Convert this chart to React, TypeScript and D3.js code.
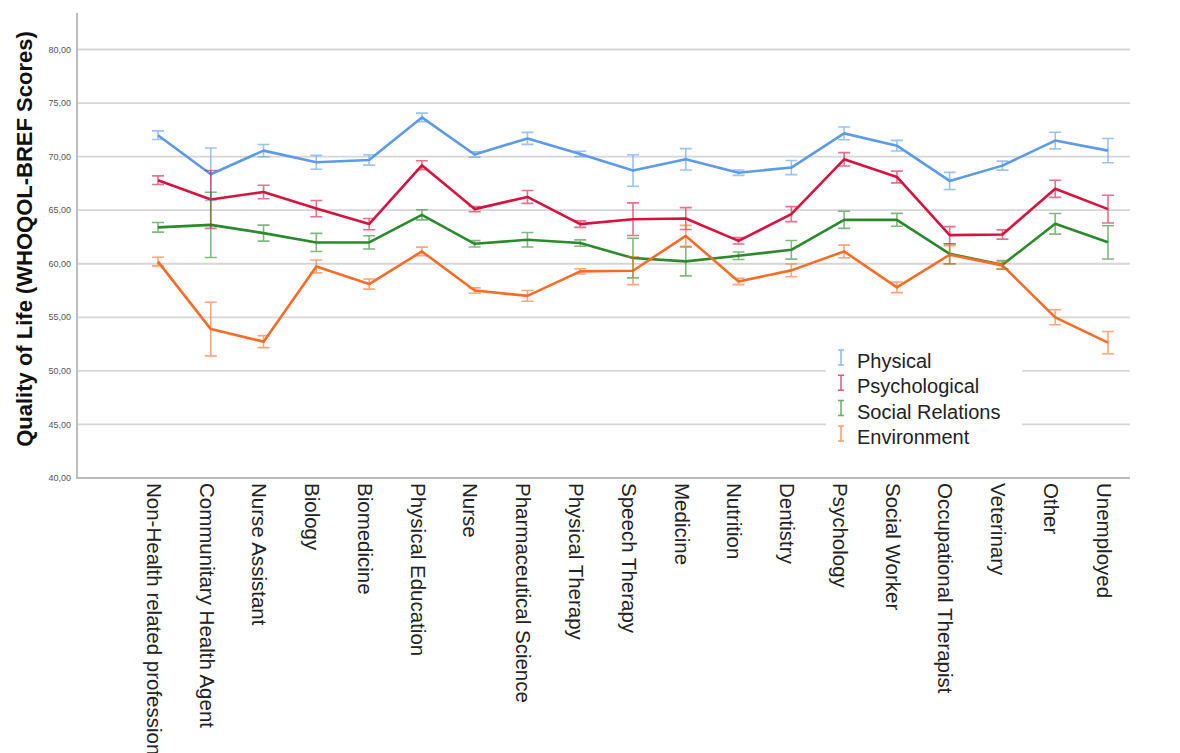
import * as d3 from "d3";
import { useEffect, useRef } from "react";

const categories = [
  "Non-Health related profession",
  "Communitary Health Agent",
  "Nurse Assistant",
  "Biology",
  "Biomedicine",
  "Physical Education",
  "Nurse",
  "Pharmaceutical Science",
  "Physical Therapy",
  "Speech Therapy",
  "Medicine",
  "Nutrition",
  "Dentistry",
  "Psychology",
  "Social Worker",
  "Occupational Therapist",
  "Veterinary",
  "Other",
  "Unemployed",
];

const physical = [72.0, 68.35, 70.56, 69.47, 69.69, 73.66, 70.2, 71.7, 70.25, 68.7, 69.75, 68.5, 68.98, 72.17, 71.02, 67.73, 69.16, 71.5, 70.56];
const physicalErr = [0.4, 2.45, 0.57, 0.65, 0.48, 0.4, 0.25, 0.56, 0.25, 1.47, 1.0, 0.25, 0.66, 0.59, 0.5, 0.8, 0.42, 0.78, 1.13];

const psychological = [67.8, 66.0, 66.7, 65.15, 63.7, 69.19, 65.1, 66.24, 63.7, 64.16, 64.22, 62.14, 64.63, 69.75, 68.1, 62.67, 62.73, 67.0, 65.1];
const psychologicalErr = [0.4, 2.7, 0.63, 0.76, 0.53, 0.42, 0.25, 0.6, 0.3, 1.52, 1.02, 0.3, 0.7, 0.62, 0.55, 0.8, 0.43, 0.8, 1.29];

const social = [63.4, 63.63, 62.86, 61.99, 62.0, 64.57, 61.86, 62.24, 61.93, 60.53, 60.22, 60.75, 61.3, 64.1, 64.1, 60.93, 59.9, 63.73, 62.0];
const socialErr = [0.45, 3.05, 0.75, 0.85, 0.62, 0.47, 0.3, 0.68, 0.3, 1.85, 1.35, 0.35, 0.87, 0.8, 0.6, 0.93, 0.4, 0.96, 1.55];

const environment = [60.2, 53.9, 52.73, 59.75, 58.1, 61.15, 57.5, 57.0, 59.29, 59.35, 62.6, 58.35, 59.38, 61.15, 57.8, 60.84, 59.85, 55.0, 52.64];
const environmentErr = [0.4, 2.5, 0.56, 0.6, 0.47, 0.4, 0.25, 0.5, 0.25, 1.3, 0.98, 0.3, 0.6, 0.59, 0.5, 0.85, 0.35, 0.7, 1.04];

const seriesNames = ["Physical", "Psychological", "Social Relations", "Environment"];
const seriesColors = ["#5b9be8", "#d6123e", "#2b8a2b", "#f76d28"];

const yTicks = [40, 45, 50, 55, 60, 65, 70, 75, 80];
const yTitle = "Quality of Life (WHOQOL-BREF Scores)";

const W = 1180;
const H = 753;
const FONT = "'Liberation Sans', Arial, sans-serif";

export default function App() {
  const ref = useRef<SVGSVGElement>(null);

  useEffect(() => {
    const svg = d3.select(ref.current);
    svg.selectAll("*").remove();

    const axisLeft = 77;
    const axisRight = 1130;

    // scales
    const x = d3.scalePoint<string>().domain(categories).range([158, 1108]);
    const y = d3.scaleLinear().domain([40, 80]).range([478, 49.5]);

    svg.append("rect").attr("width", W).attr("height", H).attr("fill", "#fff");

    // gridlines
    svg.append("g")
      .selectAll("line")
      .data(yTicks.filter((t) => t > 40))
      .enter().append("line")
      .attr("x1", axisLeft).attr("x2", axisRight)
      .attr("y1", (d) => y(d)).attr("y2", (d) => y(d))
      .attr("stroke", "#d6d6d6")
      .attr("stroke-width", 1.8);

    // y tick labels
    const fmt = (v: number) => v.toFixed(2).replace(".", ",");
    svg.append("g")
      .selectAll("text")
      .data(yTicks)
      .enter().append("text")
      .attr("x", 71)
      .attr("y", (d) => y(d))
      .attr("dy", "0.35em")
      .attr("text-anchor", "end")
      .attr("font-family", FONT)
      .attr("font-size", 9)
      .attr("fill", "#555")
      .text((d) => fmt(d));

    // axis lines
    svg.append("line")
      .attr("x1", axisLeft).attr("x2", axisLeft)
      .attr("y1", 13).attr("y2", 479)
      .attr("stroke", "#bdbdbd").attr("stroke-width", 2);
    svg.append("line")
      .attr("x1", axisLeft).attr("x2", axisRight)
      .attr("y1", 478).attr("y2", 478)
      .attr("stroke", "#bdbdbd").attr("stroke-width", 2);

    // y title
    svg.append("text")
      .attr("transform", `translate(32, 239) rotate(-90)`)
      .attr("text-anchor", "middle")
      .attr("font-family", FONT)
      .attr("font-weight", "bold")
      .attr("font-size", 22)
      .attr("fill", "#111")
      .text(yTitle);

    // x labels, rotated
    svg.append("g")
      .selectAll("text")
      .data(categories)
      .enter().append("text")
      .attr("transform", (d) => `translate(${x(d)! - 4}, 483) rotate(90)`)
      .attr("dy", "0.35em")
      .attr("font-family", FONT)
      .attr("font-size", 20.5)
      .attr("fill", "#222")
      .text((d) => d);

    const allValues = [physical, psychological, social, environment];
    const allErr = [physicalErr, psychologicalErr, socialErr, environmentErr];

    const line = d3.line<number>()
      .x((d, i) => x(categories[i])!)
      .y((d) => y(d));

    // lines
    allValues.forEach((vals, s) => {
      svg.append("path")
        .datum(vals)
        .attr("fill", "none")
        .attr("stroke", seriesColors[s])
        .attr("stroke-width", 2.6)
        .attr("stroke-linejoin", "round")
        .attr("d", line);
    });

    // error bars
    const cap = 6;
    allValues.forEach((vals, s) => {
      const g = svg.append("g")
        .attr("stroke", seriesColors[s])
        .attr("stroke-width", 1.6)
        .attr("stroke-opacity", 0.6)
        .attr("fill", "none");
      vals.forEach((v, i) => {
        const cx = x(categories[i])!;
        const lo = y(v - allErr[s][i]);
        const hi = y(v + allErr[s][i]);
        g.append("path")
          .attr("d", `M${cx},${hi}V${lo}M${cx - cap},${hi}H${cx + cap}M${cx - cap},${lo}H${cx + cap}`);
      });
    });

    // legend
    const legend = svg.append("g").attr("transform", "translate(826, 344)");
    legend.append("rect")
      .attr("width", 196).attr("height", 106)
      .attr("fill", "#fff");
    seriesNames.forEach((name, i) => {
      const base = 24 + i * 25.3;
      legend.append("path")
        .attr("d", `M15,${base - 18}V${base - 3}M12,${base - 18}H18M12,${base - 3}H18`)
        .attr("stroke", seriesColors[i])
        .attr("stroke-opacity", 0.7)
        .attr("stroke-width", 1.5)
        .attr("fill", "none");
      legend.append("text")
        .attr("x", 31)
        .attr("y", base)
        .attr("font-family", FONT)
        .attr("font-size", 20)
        .attr("fill", "#222")
        .text(name);
    });
  }, []);

  return (
    <div style={{ position: "absolute", left: 0, top: 0 }}>
      <svg ref={ref} width={W} height={H} style={{ display: "block" }}></svg>
    </div>
  );
}
